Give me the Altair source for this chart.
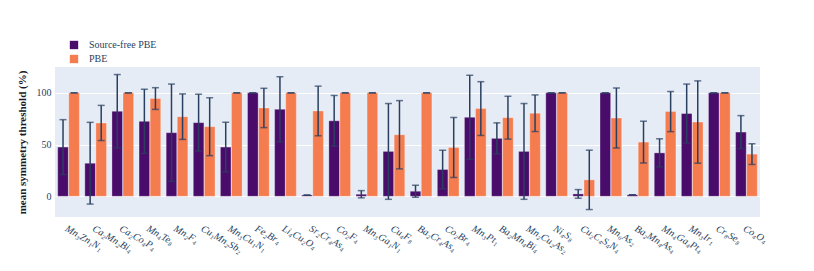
import altair as alt
import pandas as pd

categories = ["Mn₃Zn₁N₁", "Ca₂Mn₂Bi₄", "Ca₂Co₄P₄", "Mn₄Te₈", "Mn₂F₄", "Cu₁Mn₂Sb₂",
              "Mn₃Cu₁N₁", "Fe₂Br₄", "Li₄Cu₂O₄", "Sr₂Cr₄As₄", "Co₂F₄", "Mn₃Ga₁N₁",
              "Cu₄F₈", "Ba₂Cr₄As₄", "Co₂Br₄", "Mn₃Pt₁", "Ba₂Mn₄Bi₄", "Mn₂Cu₂As₂",
              "Ni₄S₈", "Cu₂C₄S₄N₄", "Mn₆As₂", "Ba₂Mn₄As₄", "Mn₄Ga₄Pt₄", "Mn₃Ir₁",
              "Cr₈Se₈", "Co₄O₄"]

series_names = ["Source-free PBE", "PBE"]

sf_mean = [47.6, 32.0, 82.2, 72.5, 61.5, 71.2, 47.6, 100, 84.1, 1.2, 73.0, 2.0,
           43.4, 4.9, 25.9, 76.4, 56.0, 43.4, 100, 2.3, 100, 1.5, 42.0, 80.0, 100, 62.1]
sf_err = [26.5, 39.5, 35.5, 31.0, 47.0, 27.5, 24.0, 0, 31.5, 0, 24.5, 3.5,
          46.3, 5.8, 18.6, 40.6, 15.0, 46.3, 0, 4.2, 0, 0, 13.6, 28.5, 0, 15.9]
pbe_mean = [100, 70.9, 100, 94.5, 77.0, 67.3, 100, 85.4, 100, 82.5, 100, 100,
            59.5, 100, 47.2, 84.8, 76.0, 80.3, 100, 15.9, 75.7, 52.4, 81.9, 71.8, 100, 40.8]
pbe_err = [0, 17.0, 0, 10.5, 22.0, 28.0, 0, 19.0, 0, 24.0, 0, 0,
           33.0, 0, 29.0, 26.0, 20.7, 17.7, 0, 28.7, 29.0, 20.2, 19.4, 39.8, 0, 10.0]

colors = ["#4a0c6b", "#f57c4f"]

rows = []
for i, c in enumerate(categories):
    rows.append({"cat": c, "series": series_names[0], "mean": sf_mean[i], "err": sf_err[i]})
    rows.append({"cat": c, "series": series_names[1], "mean": pbe_mean[i], "err": pbe_err[i]})
df = pd.DataFrame(rows)

FONT = "Liberation Serif"
INK = "#2a3f5f"

base = alt.Chart(df).transform_calculate(
    lo="datum.mean - datum.err", hi="datum.mean + datum.err"
)

x = alt.X("cat:N", sort=categories, title=None,
          scale=alt.Scale(paddingInner=0.2, paddingOuter=0.1),
          axis=alt.Axis(labelAngle=30, labelAlign="left", labelBaseline="top",
                        labelFont=FONT, labelFontStyle="italic", labelFontSize=10,
                        labelColor=INK, ticks=False, domain=False, grid=False,
                        labelPadding=6))
xo = alt.XOffset("series:N", sort=series_names, scale=alt.Scale(paddingInner=0.04))

yscale = alt.Scale(domain=[-20, 125], nice=False, zero=False)

bars = base.mark_bar(stroke="#ffffff", strokeWidth=0.5, strokeOpacity=0.6).encode(
    x=x, xOffset=xo,
    y=alt.Y("mean:Q", scale=yscale, title="mean symmetry threshold (%)",
            axis=alt.Axis(values=[0, 50, 100], labelFont=FONT, labelFontSize=10,
                          labelColor=INK, ticks=False, domain=False,
                          gridColor="#ffffff", gridWidth=1, labelPadding=4,
                          titleFont=FONT, titleFontSize=11, titleColor="#1a1a2a",
                          titleFontWeight="bold", titlePadding=10)),
    y2=alt.datum(0),
    color=alt.Color("series:N", sort=series_names,
                    scale=alt.Scale(domain=series_names, range=colors),
                    legend=alt.Legend(title=None, orient="none", legendX=14, legendY=-27,
                                      symbolType="square", symbolSize=70,
                                      symbolStrokeWidth=0, labelFont=FONT,
                                      labelFontSize=10, labelColor=INK,
                                      rowPadding=4, labelOffset=10)),
)

rules = base.mark_rule(color=INK, strokeWidth=1.5).encode(
    x=x, xOffset=xo, y=alt.Y("lo:Q", scale=yscale), y2="hi:Q"
)
cap_lo = base.mark_tick(color=INK, thickness=1.5, size=7).encode(
    x=x, xOffset=xo, y=alt.Y("lo:Q", scale=yscale)
)
cap_hi = base.mark_tick(color=INK, thickness=1.5, size=7).encode(
    x=x, xOffset=xo, y=alt.Y("hi:Q", scale=yscale)
)

chart = alt.layer(bars, rules, cap_lo, cap_hi).properties(
    width=705, height=150,
    autosize=alt.AutoSizeParams(type="none"),
    padding={"left": 47, "top": 59, "right": 46, "bottom": 40},
).configure(font=FONT).configure_view(fill="#E5ECF6", stroke=None).configure_axisY(
    titleX=-28, titleAngle=-90
).configure_legend(labelFont=FONT)

chart.save("out.html", embed_options={"renderer": "svg", "actions": False})
